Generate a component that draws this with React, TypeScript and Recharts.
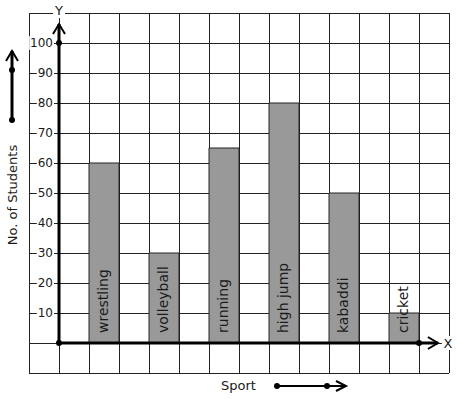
import {
  BarChart,
  Bar,
  XAxis,
  YAxis,
  CartesianGrid,
  ReferenceLine,
  ReferenceDot,
  LabelList,
} from "recharts";

const sports = ["wrestling", "volleyball", "running", "high jump", "kabaddi", "cricket"];
const students = [60, 30, 65, 80, 50, 10];
const yTicks = [-10, 0, 10, 20, 30, 40, 50, 60, 70, 80, 90, 100, 110];
const xTicks = [0, 1, 2, 3, 4, 5, 6, 7, 8, 9, 10, 11, 12, 13, 14];

// y axis sits on grid column 1, each sport gets every second column after it
const data = sports.map((sport, i) => ({
  sport,
  students: students[i],
  slot: 2 * i + 2.5,
}));

const ink = "#1a1a1a";
const font = "DejaVu Sans, sans-serif";

function NoTick() {
  return <g />;
}

function GridLine(props: any) {
  const { x1, y1, x2, y2 } = props;
  return (
    <line
      x1={x1}
      y1={y1}
      x2={x2}
      y2={y2}
      stroke="#222"
      strokeWidth={1}
      shapeRendering="crispEdges"
    />
  );
}

function YTick(props: any) {
  const { x, y, payload } = props;
  const v = payload.value;
  if (v < 10 || v > 100) return <g />;
  const w = String(v).length * 7.6 + 2;
  const right = x + 24;
  return (
    <g>
      <rect x={right - w + 1} y={y - 7} width={w} height={14} fill="#fff" />
      <text x={right} y={y} dy={4} textAnchor="end" fontSize={12} fontFamily={font} fill={ink}>
        {v}
      </text>
    </g>
  );
}

function BarName(props: any) {
  const { x, y, width, height, value } = props;
  const cx = Number(x) + Number(width) / 2;
  const by = Number(y) + Number(height) - 10;
  return (
    <text
      x={cx}
      y={by}
      dy={4}
      transform={`rotate(-90 ${cx} ${by})`}
      textAnchor="start"
      fontSize={14}
      fontFamily={font}
      fill={ink}
    >
      {value}
    </text>
  );
}

function YAxisArrow(props: any) {
  const { x1, y1, x2, y2 } = props;
  return (
    <g>
      <line x1={x1} y1={y1} x2={x2} y2={y2} stroke="#000" strokeWidth={3} />
      <polyline
        points={`${x2 - 6},${y2 + 10} ${x2},${y2} ${x2 + 6},${y2 + 10}`}
        fill="none"
        stroke="#000"
        strokeWidth={2}
      />
      <rect x={x2 - 6} y={y2 - 20} width={12} height={14} fill="#fff" />
      <text x={x2} y={y2 - 9} textAnchor="middle" fontSize={13} fontFamily={font} fill={ink}>
        Y
      </text>
    </g>
  );
}

function XAxisArrow(props: any) {
  const { x1, y1, x2, y2 } = props;
  return (
    <g>
      <line x1={x1} y1={y1} x2={x2} y2={y2} stroke="#000" strokeWidth={3} />
      <polyline
        points={`${x2 - 10},${y2 - 6} ${x2},${y2} ${x2 - 10},${y2 + 6}`}
        fill="none"
        stroke="#000"
        strokeWidth={2}
      />
      <rect x={x2 + 4} y={y2 - 7} width={12} height={14} fill="#fff" />
      <text x={x2 + 10} y={y2} dy={5} textAnchor="middle" fontSize={13} fontFamily={font} fill={ink}>
        X
      </text>
    </g>
  );
}

export default function App() {
  return (
    <div style={{ position: "absolute", left: 0, top: 0, width: 457, height: 399, background: "#fff" }}>
      <BarChart
        width={457}
        height={399}
        data={data}
        margin={{ top: 13, right: 8, bottom: 26, left: 0 }}
      >
        <CartesianGrid horizontal={GridLine} vertical={GridLine} />
        <XAxis
          dataKey="slot"
          type="number"
          domain={[0, 14]}
          ticks={xTicks}
          allowDataOverflow
          height={0}
          tick={<NoTick />}
          tickLine={false}
          axisLine={false}
        />
        <YAxis
          type="number"
          domain={[-10, 110]}
          ticks={yTicks}
          allowDataOverflow
          width={29}
          tickSize={0}
          tickMargin={0}
          tickLine={false}
          axisLine={false}
          tick={<YTick />}
        />
        <Bar dataKey="students" barSize={30} fill="#999" stroke="#222" strokeWidth={1} isAnimationActive={false}>
          <LabelList dataKey="sport" content={<BarName />} />
        </Bar>
        <ReferenceLine segment={[{ x: 1, y: 0 }, { x: 1, y: 106.3 }]} shape={YAxisArrow} />
        <ReferenceLine segment={[{ x: 1, y: 0 }, { x: 13.63, y: 0 }]} shape={XAxisArrow} />
        <ReferenceDot x={1} y={100} r={3} fill="#000" stroke="none" />
        <ReferenceDot x={1} y={0} r={3} fill="#000" stroke="none" />
        <ReferenceDot x={13} y={0} r={3} fill="#000" stroke="none" />
      </BarChart>
      <svg
        width={457}
        height={399}
        style={{ position: "absolute", left: 0, top: 0, pointerEvents: "none" }}
      >
        <text
          x={17}
          y={195}
          transform="rotate(-90 17 195)"
          textAnchor="middle"
          fontSize={13}
          fontFamily={font}
          fill={ink}
        >
          No. of Students
        </text>
        <line x1={12} y1={120} x2={12} y2={51} stroke="#000" strokeWidth={3} />
        <polyline points="6,61 12,51 18,61" fill="none" stroke="#000" strokeWidth={2} />
        <circle cx={12} cy={70} r={3} fill="#000" />
        <circle cx={12} cy={120} r={3} fill="#000" />
        <text x={221} y={390} fontSize={13} fontFamily={font} fill={ink}>
          Sport
        </text>
        <line x1={277} y1={386} x2={346} y2={386} stroke="#000" strokeWidth={2} />
        <polyline points="336,381 346,386 336,391" fill="none" stroke="#000" strokeWidth={2} />
        <circle cx={277} cy={386} r={3} fill="#000" />
        <circle cx={327} cy={386} r={3} fill="#000" />
      </svg>
    </div>
  );
}
